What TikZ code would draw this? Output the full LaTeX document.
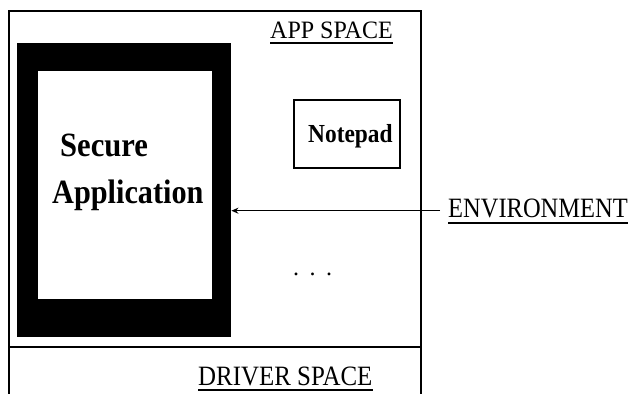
\documentclass[tikz,border=0pt]{standalone}
\usepackage{fontspec}
\usepackage{graphicx}
\setmainfont{Liberation Serif}
\usetikzlibrary{arrows.meta}

% condensed serif lettering, as in the original figure
\newcommand{\cond}[2]{\scalebox{#1}[1]{#2}}

\begin{document}
\begin{tikzpicture}[x=1pt,y=-1pt,
  label text/.style={inner sep=0pt, anchor=base west, font=\fontsize{28}{28}\selectfont},
  bold text/.style={inner sep=0pt, anchor=base west, font=\bfseries\fontsize{34}{34}\selectfont},
  uline/.style={line width=2pt},
  boxline/.style={line width=1.3pt},
  arrowline/.style={line width=1.1pt, -{Stealth[length=7pt,width=6pt]}}]

\useasboundingbox[fill=white] (0,0) rectangle (633,394);

% app space and driver space outline (open at the bottom)
\draw[boxline] (9,394) -- (9,11) -- (421,11) -- (421,394);
\draw[boxline] (9,347) -- (421,347);

% secure application: thick black frame round a white window
\node[fill=black, minimum width=214pt, minimum height=294pt, inner sep=0pt, anchor=north west] (frame) at (17,43) {};
\node[fill=white, minimum width=174pt, minimum height=228pt, inner sep=0pt, anchor=north west] (window) at (38,71) {};
\node[bold text] (secure) at (60,156) {\cond{0.9}{Secure}};
\node[bold text] (application) at (52,203) {\cond{0.89}{Application}};

% notepad box
\node[draw, line width=1.5pt, minimum width=106pt, minimum height=68pt, inner sep=0pt, anchor=north west] (notepadbox) at (293,99) {};
\node[inner sep=0pt, anchor=base west, font=\bfseries\fontsize{26}{26}\selectfont] (notepad) at (308,142) {\cond{0.9}{Notepad}};

% ellipsis
\node[inner sep=0pt, anchor=base west, font=\fontsize{24}{24}\selectfont] (dots) at (293,275) {.\hspace{10.5pt}.\hspace{10.5pt}.};

% headings
\node[label text, font=\fontsize{25}{25}\selectfont] (appspace) at (270,38) {\cond{0.96}{APP SPACE}};
\draw[line width=1.5pt] ([yshift=-5pt]appspace.base west) -- ([yshift=-5pt]appspace.base east);

\node[label text] (driverspace) at (198,385) {\cond{0.89}{DRIVER SPACE}};
\draw[uline] ([yshift=-4.5pt]driverspace.base west) -- ([yshift=-4.5pt]driverspace.base east);

\node[label text] (env) at (448,217) {\cond{0.875}{ENVIRONMENT}};
\draw[uline] ([yshift=-6pt]env.base west) -- ([yshift=-6pt]env.base east);

% environment acts on the secure application
\coordinate (envtail) at ([shift={(-8pt,6.3pt)}]env.base west);
\draw[arrowline] (envtail) -- (frame.east |- envtail);

\end{tikzpicture}
\end{document}
